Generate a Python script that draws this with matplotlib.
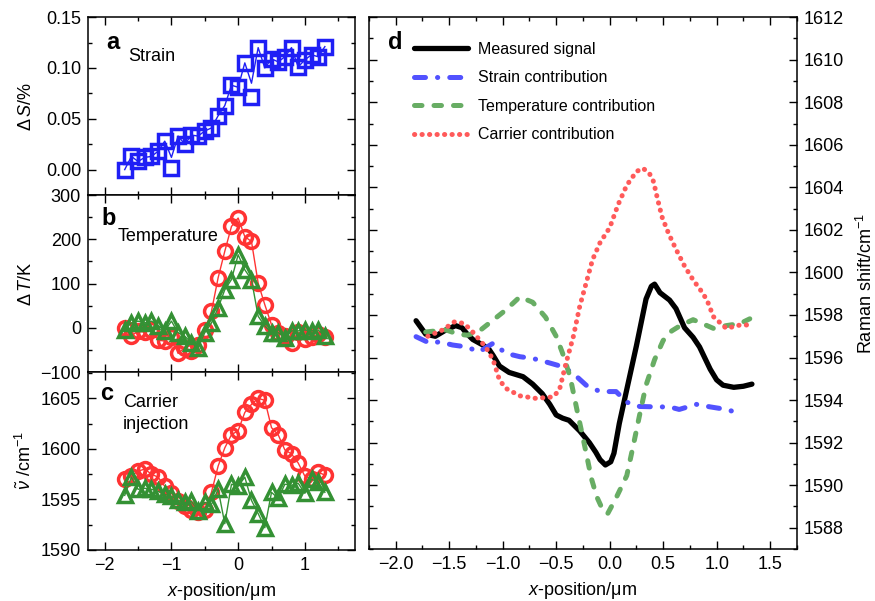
import matplotlib
matplotlib.use('Agg')
import matplotlib.pyplot as plt
from matplotlib.ticker import MultipleLocator

plt.rcParams['font.family'] = ['Liberation Sans', 'DejaVu Sans']
plt.rcParams['mathtext.fontset'] = 'custom'
plt.rcParams['mathtext.rm'] = 'Liberation Sans'
plt.rcParams['mathtext.it'] = 'Liberation Sans:italic'
plt.rcParams['mathtext.bf'] = 'Liberation Sans:bold'

# scan positions (um) for panels a-c
x_pos = [-1.7, -1.6, -1.5, -1.4, -1.3, -1.2, -1.1, -1.0, -0.9, -0.8, -0.7,
         -0.6, -0.5, -0.4, -0.3, -0.2, -0.1, 0.0, 0.1, 0.2, 0.3, 0.4, 0.5,
         0.6, 0.7, 0.8, 0.9, 1.0, 1.1, 1.2, 1.3]

# a: strain (%)
strain = [0.000, 0.013, 0.008, 0.012, 0.013, 0.018, 0.028, 0.002, 0.033, 0.025,
          0.034, 0.033, 0.038, 0.041, 0.053, 0.063, 0.083, 0.081, 0.105, 0.071,
          0.120, 0.100, 0.109, 0.106, 0.111, 0.120, 0.101, 0.108, 0.113, 0.111,
          0.121]
strain_fit = [0.000, 0.013, 0.008, 0.012, 0.013, 0.018, 0.028, 0.012, 0.033, 0.025,
              0.034, 0.033, 0.038, 0.041, 0.053, 0.063, 0.083, 0.081, 0.105, 0.085,
              0.120, 0.100, 0.109, 0.106, 0.111, 0.120, 0.101, 0.108, 0.113, 0.111,
              0.121]

# b: temperature rise (K)
temp_red = [0, -18, -8, -10, -5, -28, -30, -20, -58, -45, -52, -40, -5, 37, 113,
            173, 229, 248, 206, 195, 101, 52, 7, -11, -19, -35, -10, -25, -20,
            -15, -20]
temp_green = [-4, 11, 15, 11, 15, 5, -7, 15, -11, -19, -34, -45, -11, 11, 45, 86,
              109, 165, 131, 109, 26, 4, -11, -11, -22, -7, -7, -5, -7, -5, -19]

# c: carrier injection, wavenumber (cm-1)
wn_red = [1597.0, 1597.3, 1597.8, 1598.0, 1597.5, 1597.2, 1596.3, 1595.6, 1594.8,
          1594.3, 1594.0, 1593.8, 1594.0, 1595.7, 1598.3, 1600.1, 1601.4, 1601.8,
          1603.6, 1604.4, 1605.0, 1604.8, 1602.1, 1601.4, 1599.9, 1599.5, 1598.6,
          1597.3, 1597.0, 1597.7, 1597.4]
wn_green = [1595.4, 1597.2, 1596.0, 1596.1, 1596.0, 1595.8, 1595.5, 1595.3, 1594.9,
            1594.7, 1594.8, 1593.9, 1594.7, 1594.5, 1596.0, 1592.6, 1596.5, 1596.3,
            1597.2, 1594.9, 1593.6, 1592.2, 1595.7, 1595.1, 1596.5, 1596.4, 1596.6,
            1595.6, 1597.0, 1596.7, 1595.7]

# d: Raman shift decomposition (cm-1)
meas_x = [-1.81, -1.72, -1.63, -1.53, -1.44, -1.38, -1.34, -1.28, -1.19, -1.13,
          -1.09, -1.03, -0.94, -0.81, -0.72, -0.63, -0.56, -0.50, -0.44, -0.38,
          -0.28, -0.19, -0.13, -0.09, -0.04, 0.01, 0.04, 0.09, 0.16, 0.25, 0.34,
          0.39, 0.42, 0.47, 0.56, 0.62, 0.70, 0.78, 0.84, 0.94, 1.00, 1.06, 1.16,
          1.25, 1.33]
meas_y = [1597.73, 1597.10, 1597.00, 1597.30, 1597.50, 1597.40, 1597.15, 1596.85,
          1596.60, 1596.40, 1596.10, 1595.60, 1595.30, 1595.10, 1594.75, 1594.30,
          1593.80, 1593.30, 1593.15, 1593.05, 1592.55, 1592.00, 1591.55, 1591.20,
          1590.95, 1591.10, 1591.50, 1592.90, 1594.50, 1596.55, 1598.75, 1599.35,
          1599.45, 1599.05, 1598.70, 1598.30, 1597.40, 1596.95, 1596.50, 1595.45,
          1594.95, 1594.70, 1594.60, 1594.65, 1594.75]

strain_x = [-1.81, -1.68, -1.59, -1.47, -1.34, -1.22, -1.09, -0.97, -0.84, -0.72,
            -0.60, -0.44, -0.34, -0.22, -0.09, 0.06, 0.16, 0.28, 0.44, 0.56, 0.65,
            0.81, 0.94, 1.09, 1.22]
strain_y = [1596.98, 1596.67, 1596.74, 1596.59, 1596.50, 1596.27, 1596.67, 1596.20,
            1596.04, 1595.96, 1595.80, 1595.57, 1595.25, 1594.70, 1594.40, 1594.40,
            1593.90, 1593.70, 1593.68, 1593.68, 1593.56, 1593.80, 1593.68, 1593.56,
            1593.37]

temp_x = [-1.72, -1.63, -1.53, -1.42, -1.33, -1.23, -1.09, -0.97, -0.84, -0.72,
          -0.60, -0.50, -0.44, -0.37, -0.30, -0.24, -0.17, -0.12, -0.07, -0.02,
          0.06, 0.16, 0.22, 0.28, 0.34, 0.42, 0.50, 0.58, 0.66, 0.78, 0.91, 0.97,
          1.09, 1.22, 1.31]
temp_y = [1597.20, 1597.25, 1597.30, 1597.10, 1597.05, 1597.20, 1597.76, 1598.24,
          1598.85, 1598.60, 1597.90, 1597.00, 1596.20, 1595.10, 1593.40, 1592.00,
          1590.30, 1589.45, 1588.90, 1588.65, 1589.40, 1590.45, 1591.85, 1593.30,
          1594.70, 1595.90, 1596.80, 1597.25, 1597.50, 1597.78, 1597.50, 1597.37,
          1597.50, 1597.60, 1597.82]

carrier_x = [-1.70, -1.56, -1.45, -1.36, -1.28, -1.16, -1.09, -1.03, -0.97, -0.84,
             -0.69, -0.53, -0.47, -0.41, -0.34, -0.28, -0.22, -0.16, -0.09, 0.00,
             0.08, 0.16, 0.25, 0.31, 0.37, 0.41, 0.45, 0.49, 0.55, 0.62, 0.70, 0.78,
             0.86, 0.91, 0.97, 1.09, 1.22, 1.31]
carrier_y = [1597.00, 1597.30, 1597.68, 1597.60, 1597.20, 1596.50, 1595.90, 1594.94,
             1594.55, 1594.20, 1594.08, 1594.15, 1594.47, 1595.70, 1596.98, 1598.40,
             1599.50, 1600.60, 1601.40, 1602.10, 1603.20, 1604.10, 1604.74, 1604.90,
             1604.67, 1604.27, 1603.40, 1602.60, 1601.84, 1601.09, 1600.30, 1599.65,
             1599.10, 1598.70, 1597.92, 1597.37, 1597.53, 1597.53]

blue = '#1f1ff5'
red = '#ff3333'
green = '#349134'
fs = 13


def style(ax):
    ax.tick_params(which='both', direction='in', top=True, right=True,
                   width=1.0, labelsize=fs, pad=5)
    ax.tick_params(which='major', length=5.5)
    ax.tick_params(which='minor', length=3)
    for s in ax.spines.values():
        s.set_linewidth(1.1)
    ax.set_xlim(-2.25, 1.75)


fig = plt.figure(figsize=(8.75, 6.01), dpi=100)
ax_a = fig.add_axes([0.1006, 0.6755, 0.305, 0.296])
ax_b = fig.add_axes([0.1006, 0.3810, 0.305, 0.2945])
ax_c = fig.add_axes([0.1006, 0.0849, 0.305, 0.2961])
ax_d = fig.add_axes([0.4217, 0.0865, 0.489, 0.885])

mk = dict(markersize=10, markeredgewidth=2.5, markerfacecolor='none')

# a
ax_a.plot(x_pos, strain_fit, color=blue, lw=1.0)
ax_a.plot(x_pos, strain, 's', color=blue, **mk)
ax_a.set_ylim(-0.025, 0.15)
ax_a.yaxis.set_major_locator(MultipleLocator(0.05))
ax_a.yaxis.set_minor_locator(MultipleLocator(0.025))
ax_a.set_ylabel(r'$\Delta\,\mathit{S}$/%', fontsize=fs)
ax_a.text(0.07, 0.855, 'a', transform=ax_a.transAxes, fontsize=17,
          fontweight='bold', va='center')
ax_a.text(0.15, 0.78, 'Strain', transform=ax_a.transAxes, fontsize=fs, va='center')

# b
ax_b.plot(x_pos, temp_red, 'o-', color=red, lw=1.0, **mk)
ax_b.plot(x_pos, temp_green, '^-', color=green, lw=1.0, **mk)
ax_b.set_ylim(-100, 300)
ax_b.yaxis.set_major_locator(MultipleLocator(100))
ax_b.yaxis.set_minor_locator(MultipleLocator(50))
ax_b.set_ylabel(r'$\Delta\,\mathit{T}$/K', fontsize=fs)
ax_b.text(0.05, 0.87, 'b', transform=ax_b.transAxes, fontsize=17,
          fontweight='bold', va='center')
ax_b.text(0.11, 0.763, 'Temperature', transform=ax_b.transAxes, fontsize=fs,
          va='center')

# c
ax_c.plot(x_pos, wn_red, 'o-', color=red, lw=1.0, **mk)
ax_c.plot(x_pos, wn_green, '^-', color=green, lw=1.0, **mk)
ax_c.set_ylim(1590, 1607.6)
ax_c.yaxis.set_major_locator(MultipleLocator(5))
ax_c.yaxis.set_minor_locator(MultipleLocator(2.5))
ax_c.set_ylabel(r'$\tilde{\nu}$ /cm$^{-1}$', fontsize=fs)
ax_c.set_xlabel(r'$\mathit{x}$-position/μm', fontsize=fs, labelpad=5)
ax_c.text(0.045, 0.882, 'c', transform=ax_c.transAxes, fontsize=17,
          fontweight='bold', va='center')
ax_c.text(0.131, 0.767, 'Carrier\ninjection', transform=ax_c.transAxes,
          fontsize=fs, va='center', linespacing=1.4)

for ax in (ax_a, ax_b, ax_c):
    style(ax)
    ax.xaxis.set_major_locator(MultipleLocator(1))
    ax.xaxis.set_minor_locator(MultipleLocator(0.5))
    ax.yaxis.set_label_coords(-0.2, 0.5)
ax_a.tick_params(labelbottom=False)
ax_b.tick_params(labelbottom=False)

# d
ax_d.plot(meas_x, meas_y, color='black', lw=3.8, solid_capstyle='round',
          solid_joinstyle='round', label='Measured signal')
ax_d.plot(strain_x, strain_y, color='#5252ff', lw=3.6, dashes=(2.2, 2.4, 0.05, 2.4),
          dash_capstyle='round', label='Strain contribution')
ax_d.plot(temp_x, temp_y, color='#68ad64', lw=3.6, dashes=(1.5, 2.4),
          dash_capstyle='round', label='Temperature contribution')
ax_d.plot(carrier_x, carrier_y, color='#ff5a5a', lw=3.6, dashes=(0.05, 1.45),
          dash_capstyle='round', label='Carrier contribution')
style(ax_d)
ax_d.set_ylim(1587, 1612)
ax_d.xaxis.set_major_locator(MultipleLocator(0.5))
ax_d.xaxis.set_minor_locator(MultipleLocator(0.25))
ax_d.yaxis.set_major_locator(MultipleLocator(2))
ax_d.yaxis.set_minor_locator(MultipleLocator(1))
ax_d.tick_params(axis='y', which='both', labelleft=False, labelright=True)
ax_d.set_xlabel(r'$\mathit{x}$-position/μm', fontsize=fs, labelpad=5)
fig.text(0.99, 0.529, 'Raman shift/cm$^{-1}$', fontsize=fs, rotation=90,
         ha='center', va='center')
ax_d.text(0.044, 0.953, 'd', transform=ax_d.transAxes, fontsize=17,
          fontweight='bold', va='center')
ax_d.legend(loc='upper left', bbox_to_anchor=(0.09, 0.966), frameon=False,
            fontsize=11.5, handlelength=3.4, handletextpad=0.6, labelspacing=0.85,
            borderaxespad=0)

fig.savefig('out.png', dpi=100)
